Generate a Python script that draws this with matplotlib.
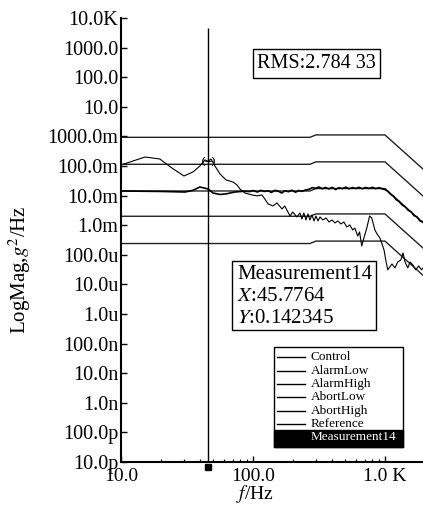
import matplotlib
matplotlib.use('Agg')
import matplotlib.pyplot as plt
from matplotlib.lines import Line2D
from matplotlib.patches import Rectangle
from matplotlib.ticker import FixedLocator, NullFormatter, LogLocator

plt.rcParams['font.family'] = ['Liberation Serif', 'DejaVu Serif']
plt.rcParams['mathtext.fontset'] = 'stix'

# profile breakpoints (Hz) shared by the reference and limit lines
prof_f = [10, 270, 300, 1000, 2000]
abort_high = [0.93, 0.93, 1.12, 1.12, 0.070]
alarm_high = [0.114, 0.114, 0.138, 0.138, 0.0086]
reference = [0.0143, 0.0143, 0.0173, 0.0173, 0.00108]
alarm_low = [2.0e-3, 2.0e-3, 2.4e-3, 2.4e-3, 1.5e-4]
abort_low = [2.4e-4, 2.4e-4, 2.9e-4, 2.9e-4, 1.8e-5]

# control channel PSD
ctrl_f = [10, 15, 20, 25, 30.5, 35, 39.6, 45.8, 49.8, 56.3, 63, 73, 85, 95,
          100, 108, 115, 122, 130, 138, 147, 156, 165, 175, 186, 197, 210,
          222, 236, 250, 265, 281, 298, 316, 335, 355, 376, 399, 423, 448,
          475, 504, 534, 566, 600, 636, 674, 715, 758, 803, 851, 902, 956,
          1000, 1050, 1100, 1160, 1220, 1280, 1350, 1420, 1500, 1580, 1660,
          1750, 1840, 1940, 2000]
ctrl_v = [0.0143, 0.0140, 0.0138, 0.0135, 0.0132, 0.0150, 0.0195, 0.0167,
          0.0122, 0.0109, 0.0115, 0.0132, 0.0140, 0.0137,
          0.0148, 0.0132, 0.0150, 0.0138, 0.0145, 0.0128, 0.0150, 0.0140,
          0.0122, 0.0146, 0.0135, 0.0152, 0.0130, 0.0148, 0.0139, 0.0155,
          0.0162, 0.0185, 0.0176, 0.0195, 0.0170, 0.0188, 0.0168, 0.0190,
          0.0160, 0.0185, 0.0172, 0.0192, 0.0170, 0.0186, 0.0175, 0.0190,
          0.0171, 0.0188, 0.0174, 0.0190, 0.0172, 0.0185, 0.0168, 0.0160,
          0.0140, 0.0112, 0.0095, 0.0072, 0.0063, 0.0048, 0.0042, 0.0032,
          0.0028, 0.0021, 0.0019, 0.0014, 0.0013, 0.0011]

# Measurement14 PSD
meas_f = [10, 15.2, 19.7, 24.3, 30.0, 35.1, 39.6, 43.3, 45.7764, 48.1, 51.5,
          56.3, 62.4, 70.5, 75.6, 79.7, 86.9, 98.2, 107, 117, 123, 130, 142,
          152, 166, 174, 191, 200, 215, 227, 235, 243, 252, 261, 270, 280,
          290, 300, 311, 322, 339, 358, 377, 397, 418, 440, 464, 488, 514,
          541, 570, 591, 622, 642, 667, 693, 728, 765, 794, 839, 871, 915,
          950, 984, 1020, 1050, 1090, 1130, 1190, 1250, 1320, 1370, 1420,
          1490, 1550, 1630, 1710, 1800, 1890, 2000]
meas_v = [0.108, 0.201, 0.172, 0.0855, 0.0459, 0.0627, 0.100, 0.160,
          0.142345, 0.172, 0.100, 0.0537, 0.0339, 0.0288, 0.0229, 0.0167,
          0.0122, 0.0105, 0.0098, 0.0105, 0.00767, 0.00524, 0.00447,
          0.00563, 0.00354, 0.00447, 0.00204, 0.00279, 0.0019, 0.00258,
          0.00162, 0.00258, 0.0015, 0.0024, 0.0015, 0.00221, 0.00139,
          0.00204, 0.00139, 0.0019, 0.0015, 0.00175, 0.00128, 0.0015,
          0.00119, 0.00139, 0.0011, 0.00128, 0.00087, 0.00102, 0.00069,
          0.0008, 0.00043, 0.00059, 0.000198, 0.00037, 0.0008, 0.00204,
          0.00175, 0.00069, 0.000505, 0.00037, 0.000232, 0.000145, 5.7e-5,
          3.1e-5, 3.9e-5, 4.9e-5, 3.6e-5, 5.7e-5, 6.7e-5, 0.000115, 5.7e-5,
          3.6e-5, 5.7e-5, 4.5e-5, 3.1e-5, 4.2e-5, 3.1e-5, 4.2e-5]

cursor_x = 45.7764
cursor_y = 0.142345
rms = '2.784 33'

ytick_vals = [1e4, 1e3, 1e2, 1e1, 1e0, 1e-1, 1e-2, 1e-3, 1e-4, 1e-5, 1e-6,
              1e-7, 1e-8, 1e-9, 1e-10, 1e-11]
ytick_labels = ['10.0K', '1000.0', '100.0', '10.0', '1000.0m', '100.0m',
                '10.0m', '1.0m', '100.0u', '10.0u', '1.0u', '100.0n',
                '10.0n', '1.0n', '100.0p', '10.0p']
xtick_vals = [10, 100, 1000]
xtick_labels = ['10.0', '100.0', '1.0 K']

legend_names = ['Control', 'AlarmLow', 'AlarmHigh', 'AbortLow', 'AbortHigh',
                'Reference', 'Measurement14']

fig = plt.figure(figsize=(4.23, 5.08), dpi=100)
ax = fig.add_axes([0.286, 0.0906, 0.718, 0.874])

lw_prof = 1.0
ax.plot(prof_f, abort_high, color='#222222', lw=lw_prof)
ax.plot(prof_f, alarm_high, color='#222222', lw=lw_prof)
ax.plot(prof_f, reference, color='#222222', lw=lw_prof)
ax.plot(prof_f, alarm_low, color='#222222', lw=lw_prof)
ax.plot(prof_f, abort_low, color='#222222', lw=lw_prof)
ax.plot(ctrl_f, ctrl_v, color='black', lw=1.2)
ax.plot(meas_f, meas_v, color='black', lw=0.8)

# cursor
ax.vlines(cursor_x, 1e-11, 4.6e3, color='black', lw=1.0)
ax.plot([cursor_x], [cursor_y], marker='$(+)$', ms=9, color='black', mew=0.3)
ax.plot([cursor_x], [-0.012], marker='s', ms=4.5, color='black',
        transform=ax.get_xaxis_transform(), clip_on=False)

ax.set_xscale('log')
ax.set_yscale('log')
ax.set_xlim(10, 2000)
ax.set_ylim(1e-11, 1e4)

ax.yaxis.set_major_locator(FixedLocator(ytick_vals))
ax.set_yticklabels(ytick_labels)
ax.yaxis.set_minor_formatter(NullFormatter())
ax.yaxis.set_minor_locator(FixedLocator([]))
ax.xaxis.set_major_locator(FixedLocator(xtick_vals))
ax.set_xticklabels(xtick_labels)
ax.xaxis.set_minor_locator(LogLocator(base=10, subs=range(2, 10)))
ax.xaxis.set_minor_formatter(NullFormatter())

ax.tick_params(axis='both', which='major', direction='in', length=4,
               width=1.0, labelsize=14.5)
ax.tick_params(axis='y', which='major', pad=2)
ax.tick_params(axis='x', which='major', pad=4, labelsize=14)
ax.tick_params(axis='x', which='minor', direction='in', length=2.5, width=0.8)

for side in ['top', 'right']:
    ax.spines[side].set_visible(False)
for side in ['left', 'bottom']:
    ax.spines[side].set_linewidth(1.5)

ax.set_ylabel('LogMag,$g^2$/Hz', fontsize=15)
ax.yaxis.set_label_coords(-0.29, 0.432)
ax.set_xlabel('$f$/Hz', fontsize=14)
ax.xaxis.set_label_coords(0.441, -0.047)

# RMS readout
fig.add_artist(Rectangle((0.598, 0.8465), 0.300, 0.057, transform=fig.transFigure,
                         facecolor='white', edgecolor='black', lw=1.0))
fig.text(0.748, 0.875, 'RMS:' + rms, fontsize=14.5, ha='center', va='center')

# cursor readout
fig.add_artist(Rectangle((0.548, 0.350), 0.341, 0.136, transform=fig.transFigure,
                         facecolor='white', edgecolor='black', lw=1.0))
fig.text(0.560, 0.4587, 'Measurement14', fontsize=15, va='center')
fig.text(0.560, 0.4154, '$X$:%.4f' % cursor_x, fontsize=15, va='center')
fig.text(0.560, 0.374, '$Y$:%.6f' % cursor_y, fontsize=15, va='center')

# legend
fig.add_artist(Rectangle((0.648, 0.1201), 0.305, 0.1968, transform=fig.transFigure,
                         facecolor='white', edgecolor='black', lw=1.0))
fig.add_artist(Rectangle((0.648, 0.1201), 0.305, 0.0334, transform=fig.transFigure,
                         facecolor='black', edgecolor='black', lw=1.0))
for i, name in enumerate(legend_names):
    yy = 0.2967 - i * 0.0262
    last = i == len(legend_names) - 1
    fig.add_artist(Line2D([0.655, 0.721], [yy, yy], transform=fig.transFigure,
                          color='black', lw=1.0))
    fig.text(0.735, yy, name, fontsize=9.5, va='center',
             color='white' if last else 'black')

fig.savefig('out.png', dpi=100)
